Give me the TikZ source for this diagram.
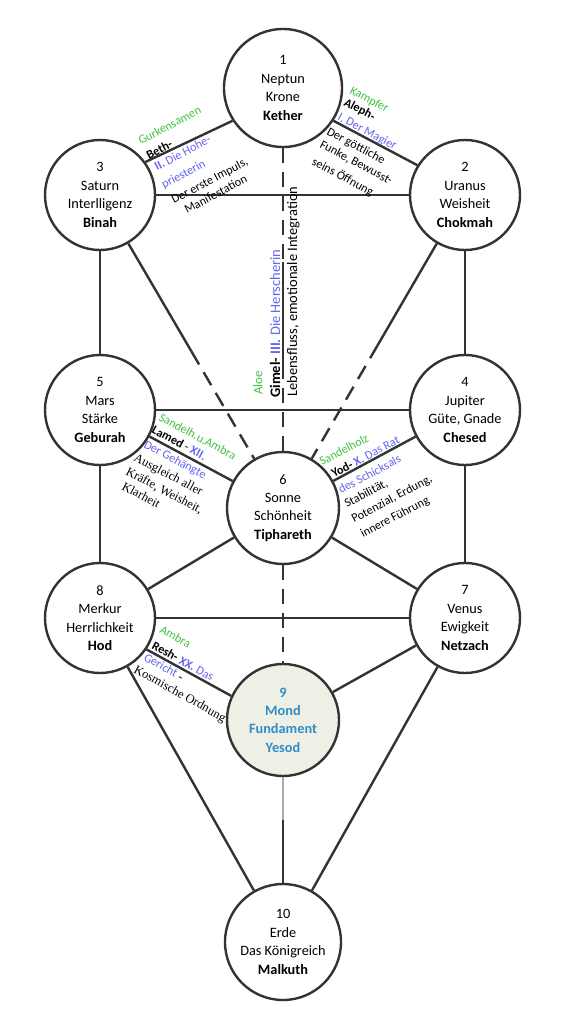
\documentclass[tikz,border=0pt]{standalone}
\usepackage{fontspec}
\setmainfont{Carlito}
\newfontfamily\serf{Liberation Serif}
\usetikzlibrary{calc}
\definecolor{ln}{HTML}{333333}
\definecolor{grn}{HTML}{42C242}
\definecolor{blu}{HTML}{6666F0}
\definecolor{ysb}{HTML}{2F8DC8}
\definecolor{ysf}{HTML}{EEF0E6}
\definecolor{gry}{HTML}{A3ABAB}
\begin{document}
\begin{tikzpicture}[x=1pt,y=-1pt,
 sef/.style={circle,draw=ln,line width=2.4pt,fill=white,inner sep=0pt,align=center,font=\fontsize{14.3}{18.4}\selectfont},
 conn/.style={draw=ln,line width=2.4pt},
 dsh/.style={conn,dash pattern=on 15pt off 9pt},
 lab/.style={inner sep=0pt,anchor=base west,font=\fontsize{12.2}{14}\selectfont},
 slab/.style={lab,font=\serf\fontsize{12.5}{14}\selectfont},
 vlab/.style={inner sep=0pt,anchor=base west,rotate=90,font=\fontsize{14.5}{16}\selectfont},
]
\fill[white] (0,0) rectangle (570,1035);
\useasboundingbox (0,0) rectangle (570,1035);

% Sephiroth
\node[sef,minimum size=118pt] (keth) at (283,88) {1\\Neptun\\Krone\\\textbf{Kether}};
\node[sef,minimum size=110pt] (bin) at (100,195) {3\\Saturn\\Interlligenz\\\textbf{Binah}};
\node[sef,minimum size=110pt] (chok) at (465,195) {2\\Uranus\\Weisheit\\\textbf{Chokmah}};
\node[sef,minimum size=110pt] (geb) at (100,410) {5\\Mars\\Stärke\\\textbf{Geburah}};
\node[sef,minimum size=110pt] (ches) at (465,410) {4\\Jupiter\\Güte, Gnade\\\textbf{Chesed}};
\node[sef,minimum size=112pt] (tip) at (283,508) {6\\Sonne\\Schönheit\\\textbf{Tiphareth}};
\node[sef,minimum size=110pt] (hod) at (100,618) {8\\Merkur\\Herrlichkeit\\\textbf{Hod}};
\node[sef,minimum size=110pt] (netz) at (465,618) {7\\Venus\\Ewigkeit\\\textbf{Netzach}};
\node[sef,minimum size=112pt,fill=ysf,text=ysb,font=\fontsize{14.3}{18.4}\selectfont\bfseries] (yes) at (283,720) {9\\Mond\\Fundament\\Yesod};
\node[sef,minimum size=116pt] (malk) at (283,942) {10\\Erde\\Das Königreich\\\textbf{Malkuth}};

% Paths
\draw[conn] (bin.36) -- (keth.213);
\draw[conn] (keth.-33) -- (chok.148);
\draw[conn] (bin) -- (chok);
\draw[dsh] (keth) -- (tip);
\coordinate (g1) at (283,262);
\coordinate (g2) at (283,374);
\draw[conn] (g1) -- (g2);
\draw[conn] (bin) -- (geb);
\draw[conn] (chok) -- (ches);
\coordinate (bt) at ($(bin)!0.5!(tip)$);
\draw[conn] (bin) -- (bt);
\draw[dsh] (bt) -- (tip);
\coordinate (ct) at ($(chok)!0.48!(tip)$);
\draw[conn] (chok) -- (ct);
\draw[dsh] (ct) -- (tip);
\draw[conn] (geb) -- (ches);
\draw[conn] (geb) -- (tip);
\draw[conn] (ches) -- (tip);
\draw[conn] (geb) -- (hod);
\draw[conn] (ches) -- (netz);
\draw[conn] (tip) -- (hod);
\draw[conn] (tip) -- (netz);
\draw[dsh] (tip) -- (yes);
\draw[conn] (hod) -- (netz);
\draw[conn] (hod.-34) -- (yes.155);
\draw[conn] (netz) -- (yes);
\draw[conn] (hod) -- (malk);
\draw[conn] (netz) -- (malk);
\coordinate (ym) at (283,820);
\draw[conn,draw=black!80] (yes) -- (malk);
\draw[conn,draw=gry] (yes) -- (ym);

% Beth
\node[lab,text=grn,rotate=28] (gurk) at (141,145) {Gurkensamen};
\node[lab,rotate=28] (beth) at (149,160) {\bfseries Beth-};
\node[lab,text=blu,rotate=28] (hohe) at (157,171) {\textbf{II.} Die Hohe-};
\node[lab,text=blu,rotate=28] (prie) at (164,189) {priesterin};
\node[lab,rotate=28] (impu) at (174,204) {Der erste Impuls,};
\node[lab,rotate=28] (mani) at (187,214) {Manifestation};

% Aleph
\node[lab,text=grn,rotate=-28] (kamp) at (349,93) {Kampfer};
\node[lab,rotate=-28] (alep) at (343,105) {\bfseries Aleph-};
\node[lab,text=blu,rotate=-28] (magi) at (337,119.5) {I. Der Magier};
\node[lab,rotate=-28] (gott) at (326,134) {Der göttliche};
\node[lab,rotate=-28] (funk) at (319,147) {Funke, Bewusst-};
\node[lab,rotate=-28] (sein) at (311,164) {seins Öffnung};

% Gimel
\node[vlab,text=grn,anchor=center,font=\fontsize{13}{15}\selectfont] (aloe) at (258,383) {Aloe};
\node[vlab] (gime) at (280,398) {\textbf{Gimel-} \textcolor{blu}{\textbf{III.} Die Herscherin}};
\node[vlab] (lebe) at (297,397) {Lebensfluss, emotionale Integration};

% Lamed
\node[lab,text=grn,rotate=-28] (sand) at (158,420) {Sandelh.u.Ambra};
\node[lab,rotate=-28] (lame) at (151,432.5) {\textbf{Lamed} - \textcolor{blu}{\textbf{XII.}}};
\node[lab,text=blu,rotate=-28] (geha) at (143,447) {Der Gehängte};
\node[slab,rotate=-28] (ausg) at (133,460) {Ausgleich aller};
\node[slab,rotate=-28] (kraf) at (125,474) {Kräfte, Weisheit,};
\node[slab,rotate=-28] (klar) at (121,489) {Klarheit};

% Yod
\node[lab,text=grn,rotate=28] (sahz) at (322,466) {Sandelholz};
\node[lab,rotate=28] (yod) at (334,478) {\textbf{Yod-} \textcolor{blu}{\textbf{X.} Das Rat}};
\node[lab,text=blu,rotate=28] (schi) at (341,494) {des Schicksals};
\node[lab,rotate=28] (stab) at (347,508) {Stabilität,};
\node[lab,rotate=28] (pote) at (354,523) {Potenzial, Erdung,};
\node[lab,rotate=28] (innf) at (363,538) {innere Führung};

% Resh
\node[lab,text=grn,rotate=-29] (ambr) at (159,632) {Ambra};
\node[lab,rotate=-29] (resh) at (151,648) {\textbf{Resh-} \textcolor{blu}{\textbf{XX.} Das}};
\node[lab,rotate=-29] (geri) at (143,660) {\textcolor{blu}{Gericht} {\serf -}};
\node[slab,rotate=-29] (kosm) at (133,672) {Kosmische Ordnung};
\end{tikzpicture}
\end{document}
